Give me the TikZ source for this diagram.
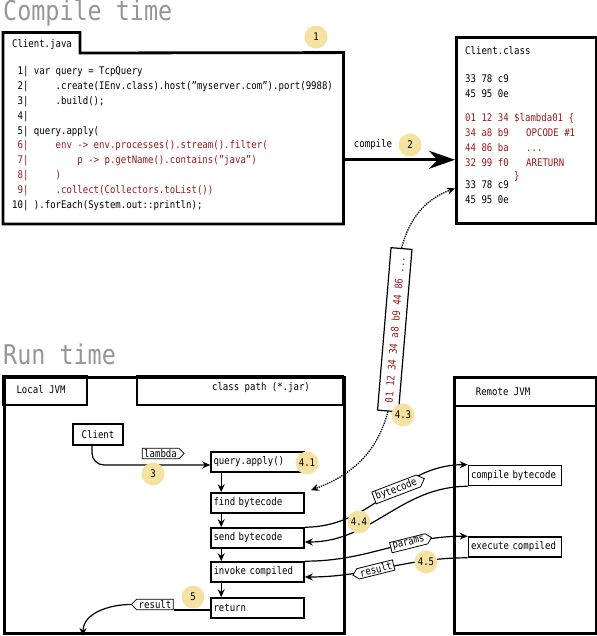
\documentclass[tikz,border=0pt]{standalone}
\usepackage{fontspec}
\setmonofont[FakeStretch=0.86]{DejaVu Sans Mono}
\usepackage{xcolor}
\usepackage{tikz}
\usetikzlibrary{positioning, arrows.meta, calc, shapes.symbols}

\definecolor{codered}{RGB}{155,25,25}
\definecolor{badgefill}{RGB}{245,226,160}
\definecolor{titlegray}{RGB}{150,150,150}

\begin{document}
\begin{tikzpicture}[x=1pt, y=1pt,
    font=\ttfamily\fontsize{10.5}{12}\selectfont,
    thickframe/.style={line width=2.8pt},
    heading/.style={anchor=base west, inner sep=0pt, text=titlegray, font=\ttfamily\fontsize{27.2}{28}\selectfont},
    code/.style={anchor=west, inner sep=0pt, text height=8pt, text depth=2.5pt},
    box/.style={draw, line width=1.6pt, inner xsep=2.5pt, inner ysep=0pt, minimum height=20pt, text width=88pt, align=left},
    badge/.style={circle, fill=badgefill, minimum size=23pt, inner sep=0pt},
    flag/.style={draw, fill=white, line width=0.8pt, signal, signal to=east, inner xsep=2pt, inner ysep=1.2pt},
    flow/.style={line width=1.2pt, -{Stealth[length=8pt, width=7pt]}},
    dots/.style={line width=1.3pt, densely dotted, -{Stealth[length=8pt, width=7pt]}}]
    \useasboundingbox (0,0) rectangle (596,636);

    % compile time
    \node[heading] (title_compile) at (3,615) {Compile time};
    \node (java) [minimum width=340pt, minimum height=171pt, anchor=south west, inner sep=0pt] at (3,412) {};
    \draw[thickframe] (java.north west) -- ++(0,20) -| (80,583) -- (java.north east) -- (java.south east) -- (java.south west) -- cycle;
    \node (java_tab) at (42,591) {Client.java};
    \node[badge] (badge1) at (316,599) {1};

    \node[code] (code_1) at (12,564.3) {~1|~var query = TcpQuery};
    \node[code] (code_2) at (12,549.4) {~2|~~~~~.create(IEnv.class).host(”myserver.com”).port(9988)};
    \node[code] (code_3) at (12,534.5) {~3|~~~~~.build();};
    \node[code] (code_4) at (12,519.6) {~4|};
    \node[code] (code_5) at (12,504.7) {~5|~query.apply(};
    \node[code, text=codered] (code_6) at (12,489.8) {~6|~~~~~env -> env.processes().stream().filter(};
    \node[code, text=codered] (code_7) at (12,474.9) {~7|~~~~~~~~~p -> p.getName().contains(”java”)};
    \node[code, text=codered] (code_8) at (12,460.0) {~8|~~~~~)};
    \node[code, text=codered] (code_9) at (12,445.1) {~9|~~~~~.collect(Collectors.toList())};
    \node[code] (code_10) at (12,430.2) {10|~).forEach(System.out::println);};

    \node[draw, thickframe, minimum width=140pt, minimum height=186pt, anchor=north west] (class) at (455,600) {};
    \node[code] (class_0) at (465,584) {Client.class};
    \node[code] (class_1) at (465,556) {33 78 c9};
    \node[code] (class_2) at (465,541) {45 95 0e};
    \node[code, text=codered] (class_3) at (465,517.7) {01 12 34};
    \node[code, text=codered] (class_4) at (465,502.7) {34 a8 b9};
    \node[code, text=codered] (class_5) at (465,487.7) {44 86 ba};
    \node[code, text=codered] (class_6) at (465,472.7) {32 99 f0};
    \node[code] (class_7) at (465,450.3) {33 78 c9};
    \node[code] (class_8) at (465,435.3) {45 95 0e};
    \node[code, text=codered] (lambda_1) at (514,517.7) {\$lambda01 \{};
    \node[code, text=codered] (lambda_2) at (526,502.7) {OPCODE \#1};
    \node[code, text=codered] (lambda_3) at (526,487.7) {...};
    \node[code, text=codered] (lambda_4) at (526,472.7) {ARETURN};
    \node[code, text=codered] (lambda_5) at (514,459.3) {\}};

    \draw[line width=3pt, -{Stealth[length=26pt, width=18pt]}] ([yshift=-21.5pt]java.east) -- ([yshift=-21.5pt]java.east -| class.west);
    \node (compile_lbl) at (373,491) {compile};
    \node[badge] (badge2) at (410,491) {2};

    % bytecode on the wire
    \node[draw, line width=1.2pt, fill=white, rotate=85.25, minimum width=163pt, minimum height=21pt, text=codered] (tape) at (394.75,306.25) {01 12 34 34 a8 b9 44 86 ...};
    \draw[dots] (tape.east) to[out=75, in=200] ([yshift=-58pt]class.west);

    % run time
    \node[heading] (title_run) at (3,271) {Run time};
    \node[draw, thickframe, minimum width=340pt, minimum height=256pt, anchor=north west] (local) at (3,260) {};
    \draw[line width=2pt] (3,260) rectangle (87,231);
    \draw[line width=2pt] (137,260) rectangle (343,231);
    \node (local_head) at (41,246) {Local JVM};
    \node (path_head) at (261,248) {class path (*.jar)};

    \node[draw, thickframe, minimum width=142pt, minimum height=256pt, anchor=north west] (remote) at (453,260) {};
    \draw[line width=2pt] (453,230) -- (595,230);
    \node (remote_head) at (503,244) {Remote JVM};

    \node[draw, line width=1.6pt, minimum width=50pt, minimum height=21pt] (client) at (98,201.5) {Client};
    \node[box] (flow_1) at (257.5,174) {query.apply()};
    \node[box] (flow_2) at (257.5,133) {find bytecode};
    \node[box] (flow_3) at (257.5,98) {send bytecode};
    \node[box] (flow_4) at (257.5,64) {invoke compiled};
    \node[box] (flow_5) at (257.5,28) {return};
    \node[box] (remote_1) at (515,160.5) {compile bytecode};
    \node[box] (remote_2) at (515,89) {execute compiled};

    \draw[flow, rounded corners=12pt] ([xshift=-6pt]client.south) |- ([yshift=-3pt]flow_1.west);
    \node[flag] (lambda_tag) at (160.5,182.5) {lambda};
    \draw[flow] ([xshift=11pt]flow_1.south west) -- ([xshift=11pt]flow_2.north west);
    \draw[flow] ([xshift=11pt]flow_2.south west) -- ([xshift=11pt]flow_3.north west);
    \draw[flow] ([xshift=11pt]flow_3.south west) -- ([xshift=11pt]flow_4.north west);
    \draw[flow] ([xshift=11pt]flow_4.south west) -- ([xshift=11pt]flow_5.north west);

    \draw[dots] (tape.west) to[out=-105, in=20] ([shift={(6pt,2pt)}]flow_2.north east);

    \draw[flow] (flow_3.north east) to[out=0, in=180] node[flag, rotate=21, pos=0.57] {bytecode} (remote_1.north west);
    \draw[flow] (remote_1.south west) to[out=180, in=0] ([yshift=-4pt]flow_3.east);
    \draw[flow] (flow_4.north east) to[out=0, in=180] node[flag, rotate=14, pos=0.65] {params} (remote_2.north west);
    \draw[flow] (remote_2.south west) to[out=180, in=0] node[flag, signal to=west, rotate=14, pos=0.57] {result} ([yshift=-5pt]flow_4.east);

    \node[flag, signal to=west] (result_out) at (155,31.5) {result};
    \draw[line width=1.2pt] ([yshift=-2pt]flow_5.west) -- ([yshift=-2pt]flow_5.west -| result_out.east);
    \coordinate (exit) at (83,0);
    \draw[flow] (result_out.west) to[out=180, in=90] (exit);

    \node[badge] (badge3) at (153,162) {3};
    \node[badge] (badge4_1) at (307,173) {4.1};
    \node[badge] (badge4_3) at (403,221) {4.3};
    \node[badge] (badge4_4) at (359,114) {4.4};
    \node[badge] (badge4_5) at (426,74) {4.5};
    \node[badge] (badge5) at (193,39) {5};
\end{tikzpicture}
\end{document}
